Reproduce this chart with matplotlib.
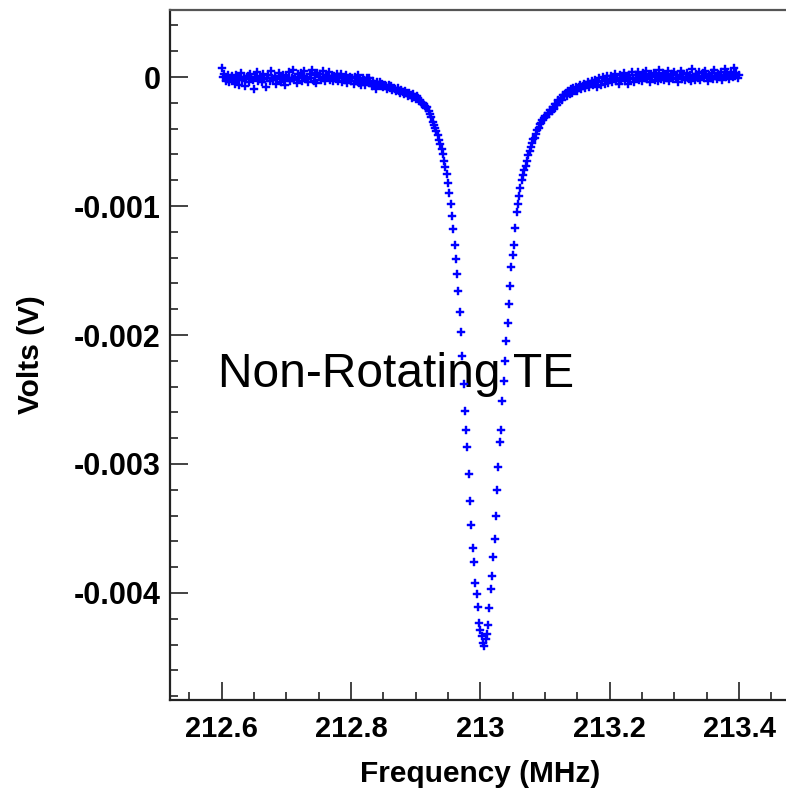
import numpy as np
import matplotlib
matplotlib.use("Agg")
import matplotlib.pyplot as plt
from matplotlib.ticker import MultipleLocator

# sweep: 212.6 .. 213.4 MHz, one sample every 2 kHz
freq_start = 212.6
freq_stop = 213.4

volts_uV = [
    70, -2, 22, -34, -18, 14, -42, -10, 6, -26,
    -50, 19, -13, -58, -2, 30, -26, -7, -66, -18,
    9, -39, 25, -10, -23, -90, -2, 38, -29, -13,
    1, -42, 22, -18, -74, -7, 14, -34, 46, -10,
    -26, 6, -50, -13, 30, -2, -39, 19, -23, -58,
    11, -10, 41, -32, -4, 54, -18, 3, -45, 25,
    -11, 31, -30, 10, 47, -17, 2, -38, 26, -6,
    58, -27, 15, -46, 34, -1, 21, -22, 50, -11,
    -32, 19, -3, 43, -23, 6, -29, 11, -16, 27,
    -33, -1, 23, -41, -6, -22, 17, -49, -12, 4,
    -32, -11, -51, -3, -27, 13, -43, -19, -64, -11,
    -24, -64, -11, -40, -5, -48, -72, -27, -56, -96,
    -42, -58, -35, -70, -55, -80, -60, -72, -90, -65,
    -85, -70, -100, -82, -95, -110, -88, -105, -120, -98,
    -115, -130, -108, -125, -145, -122, -140, -160, -135, -155,
    -170, -150, -165, -185, -195, -210, -200, -225, -240, -235,
    -265, -290, -310, -345, -370, -395, -420, -450, -490, -520,
    -560, -595, -650, -700, -755, -820, -900, -985, -1075, -1180,
    -1300, -1410, -1530, -1660, -1820, -1980, -2160, -2380, -2590, -2740,
    -2870, -3080, -3290, -3470, -3650, -3760, -3920, -4010, -4110, -4230,
    -4290, -4330, -4390, -4410, -4360, -4320, -4250, -4120, -3970, -3870,
    -3720, -3580, -3400, -3200, -3020, -2830, -2740, -2510, -2360, -2200,
    -2050, -1910, -1760, -1620, -1470, -1380, -1300, -1170, -1050, -985,
    -920, -860, -795, -760, -720, -690, -650, -605, -570, -540,
    -515, -480, -470, -440, -410, -395, -365, -355, -330, -320,
    -300, -310, -280, -290, -255, -265, -230, -245, -205, -220,
    -180, -190, -160, -175, -140, -150, -125, -145, -110, -130,
    -95, -120, -88, -105, -75, -110, -80, -62, -95, -70,
    -50, -85, -60, -40, -75, -55, -30, -65, -45, -25,
    -75, -38, -6, -62, -27, 2, -54, -14, 10, -43,
    -15, 9, -39, -10, 25, -31, -4, -55, 17, -20,
    2, 29, -30, -3, -51, 18, -14, 37, -8, -40,
    19, -5, 40, -24, 3, -32, 29, -10, 48, -16,
    8, -40, 24, -3, 35, -19, 13, -29, 56, 0,
    -14, 31, -25, 15, -9, 44, -33, 4, 23, -17,
    38, -5, 17, -37, 8, 49, -15, 27, -24, 1,
    35, -13, 13, -32, 61, 3, -19, 23, -9, 39,
    -23, 9, 28, -7, 44, 4, -28, 19, -4, 32,
    -18, 51, 11, -13, 24, 2, 40, -21, 14, 62,
    -3, 26, -16, 18, 42, 2, 71, 10, 34, -6,
    18,
]

x_ticks = [212.6, 212.8, 213.0, 213.2, 213.4]
x_labels = ["212.6", "212.8", "213", "213.2", "213.4"]
y_ticks = [0, -0.001, -0.002, -0.003, -0.004]
y_labels = ["0", "-0.001", "-0.002", "-0.003", "-0.004"]

volts = np.array(volts_uV) * 1e-6
freq = np.linspace(freq_start, freq_stop, len(volts))

plt.rcParams['font.family'] = ['Liberation Sans', 'DejaVu Sans']

fig = plt.figure(figsize=(7.86, 7.92), dpi=100)
ax = fig.add_axes([170 / 786, 92 / 792, 624 / 786, 690 / 792])

ax.plot(freq, volts, ls='none', marker='P', ms=6, mew=0.3, mec='#0000ff',
        color='#0000ff', zorder=3)

ax.text(212.594, -0.00231, "Non-Rotating TE", fontsize=34.5, ha='left', va='center',
        color='black', zorder=2)

ax.set_xlim(212.52, 213.485)
ax.set_ylim(-0.00483, 0.00052)

ax.xaxis.set_minor_locator(MultipleLocator(0.05))
ax.yaxis.set_minor_locator(MultipleLocator(0.0002))
ax.set_xticks(x_ticks)
ax.set_xticklabels(x_labels)
ax.set_yticks(y_ticks)
ax.set_yticklabels(y_labels)

ax.tick_params(which='both', direction='in', top=False, right=False, width=1.2, color='#222222')
ax.tick_params(which='major', length=13)
ax.tick_params(which='minor', length=6)
ax.tick_params(axis='x', which='major', pad=11)
ax.tick_params(axis='y', which='major', pad=7)
for lab in ax.get_xticklabels():
    lab.set_fontsize(21)
    lab.set_fontweight('bold')
for lab in ax.get_yticklabels():
    lab.set_fontsize(22)
    lab.set_fontweight('bold')

for side in ['left', 'bottom']:
    ax.spines[side].set_linewidth(1.6)
    ax.spines[side].set_color('#222222')
ax.spines['top'].set_linewidth(1.6)
ax.spines['top'].set_color('#555555')
ax.spines['right'].set_visible(False)

ax.set_xlabel('Frequency (MHz)', fontsize=21.5, fontweight='bold')
ax.set_ylabel('Volts (V)', fontsize=21.5, fontweight='bold')
ax.xaxis.set_label_coords((480 - 170) / 624, -(760 - 700) / 690)
ax.yaxis.set_label_coords(-(170 - 45) / 624, (700 - 355) / 690)

fig.savefig('out.png', dpi=100)
